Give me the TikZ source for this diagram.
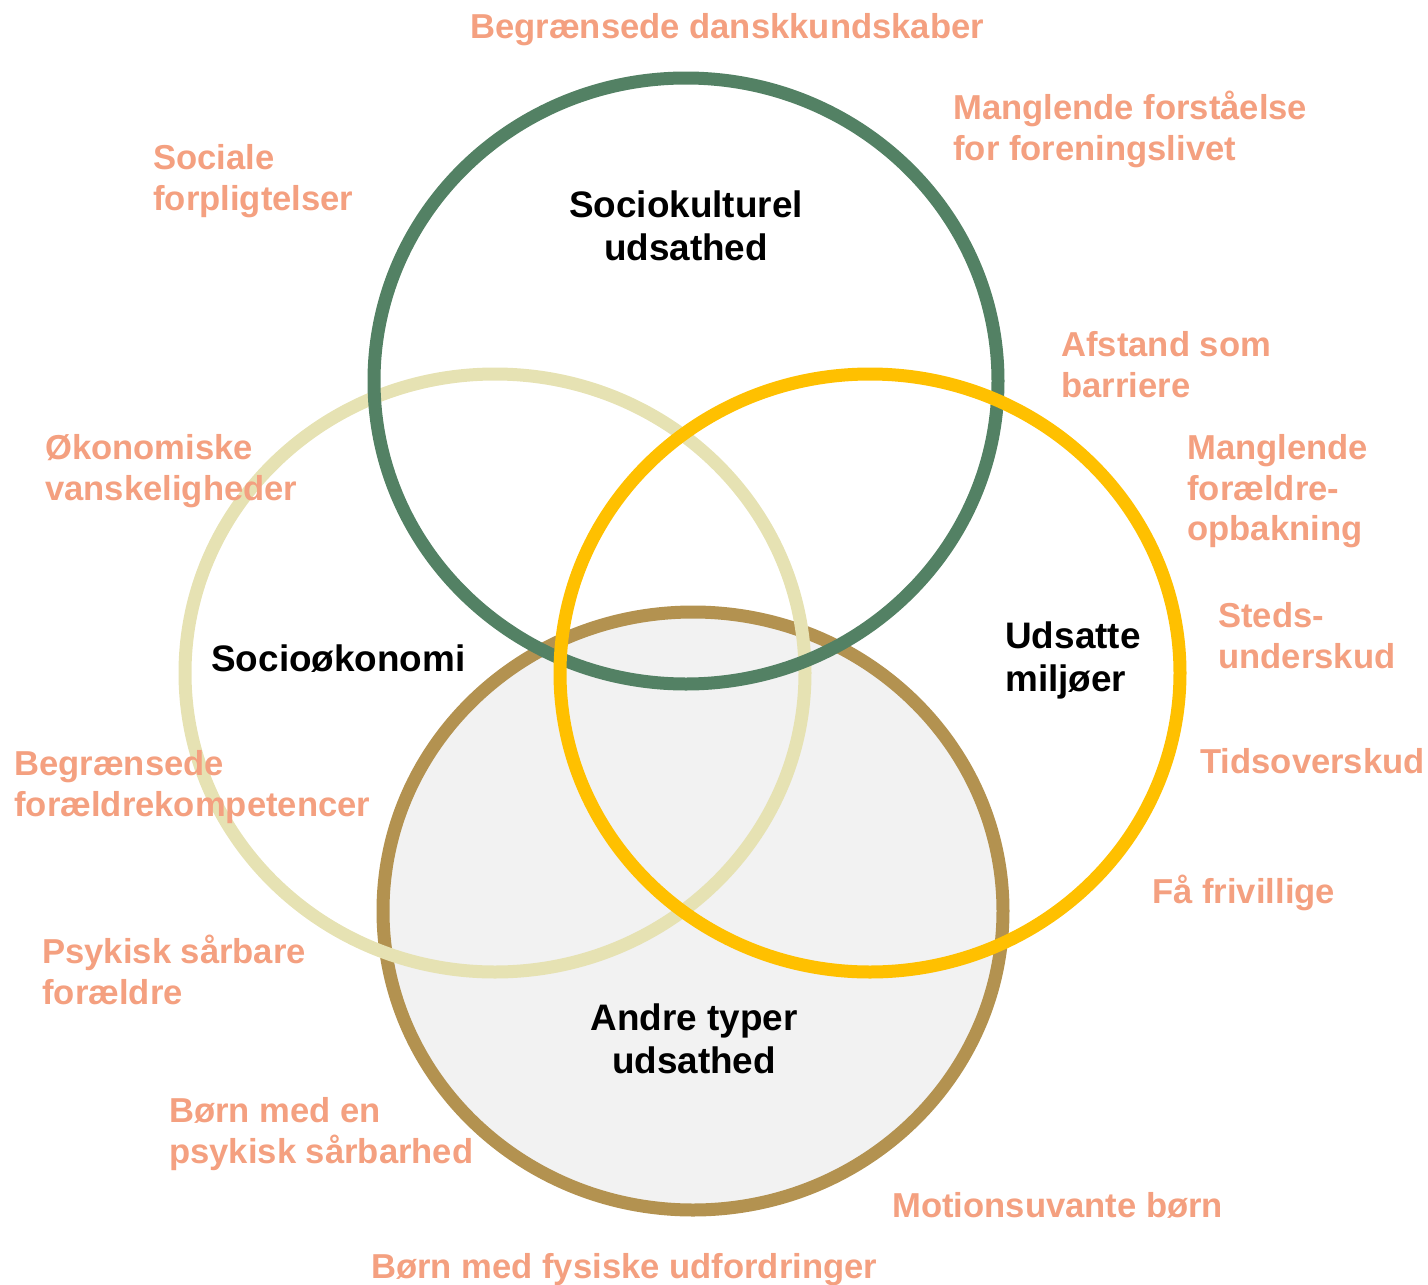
\documentclass[tikz,border=0pt]{standalone}
\usepackage{fontspec}
\setmainfont{Liberation Sans}
\definecolor{cgreen}{HTML}{538164}
\definecolor{clight}{HTML}{E6E2B3}
\definecolor{cgold}{HTML}{FFC000}
\definecolor{cbrown}{HTML}{B39250}
\definecolor{csalmon}{HTML}{F4A080}
\definecolor{cgray}{HTML}{F2F2F2}
\begin{document}
\begin{tikzpicture}[x=0.02cm,y=-0.02cm,
  ring/.style={line width=13*0.02cm},
  factor/.style={text=csalmon, font=\fontsize{19.7}{23.2}\selectfont\bfseries, align=left, anchor=north west, inner sep=0pt},
  title/.style={text=black, font=\fontsize{21}{24.9}\selectfont\bfseries, inner sep=0pt}]
\useasboundingbox (0,0) rectangle (1428,1285);
% circles
\fill[cgray] (693,911) ellipse [x radius=310, y radius=299];
\draw[ring, cbrown] (693,911) ellipse [x radius=310, y radius=299];
\draw[ring, clight] (495,673) ellipse [x radius=310, y radius=299];
\draw[ring, cgreen] (686,381) ellipse [x radius=312, y radius=303];
\draw[ring, cgold] (870,673) ellipse [x radius=310, y radius=299];
% titles
\node[title, align=center, anchor=north] (t1) at (686,190) {Sociokulturel\\udsathed};
\node[title, anchor=north west] (t2) at (211,644) {Socioøkonomi};
\node[title, align=left, anchor=north west] (t3) at (1005,621) {Udsatte\\miljøer};
\node[title, align=center, anchor=north] (t4) at (694,1003) {Andre typer\\udsathed};
% factors
\node[factor] (f1) at (470,13) {Begrænsede danskkundskaber};
\node[factor] (f2) at (953,91) {Manglende forståelse\\for foreningslivet};
\node[factor] (f3) at (153,144) {Sociale\\forpligtelser};
\node[factor] (f4) at (1061,331) {Afstand som\\barriere};
\node[factor] (f5) at (1187,434) {Manglende\\forældre-\\opbakning};
\node[factor] (f6) at (45,434) {Økonomiske\\vanskeligheder};
\node[factor] (f7) at (1218,602) {Steds-\\underskud};
\node[factor] (f8) at (14,750) {Begrænsede\\forældrekompetencer};
\node[factor] (f9) at (1200,748) {Tidsoverskud};
\node[factor] (f10) at (1152,875) {Få frivillige};
\node[factor] (f11) at (42,935) {Psykisk sårbare\\forældre};
\node[factor] (f12) at (169,1097) {Børn med en\\psykisk sårbarhed};
\node[factor] (f13) at (892,1192) {Motionsuvante børn};
\node[factor] (f14) at (371,1253) {Børn med fysiske udfordringer};
\end{tikzpicture}
\end{document}
